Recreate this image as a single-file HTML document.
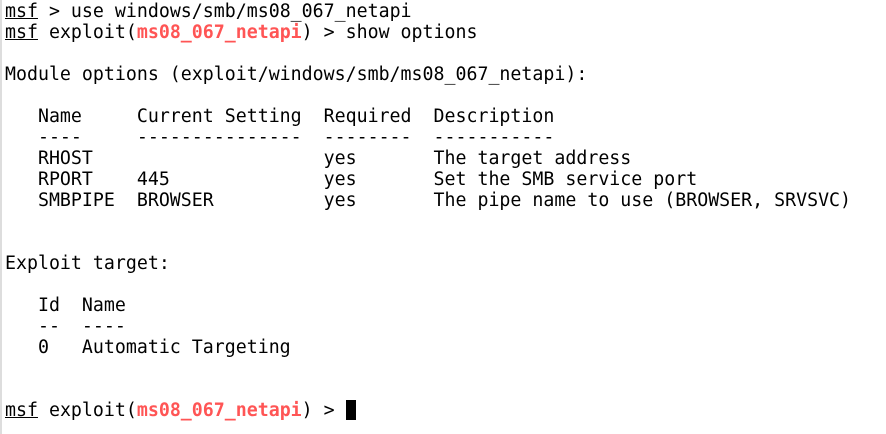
<!DOCTYPE html>
<html><head><meta charset="utf-8"><style>
html,body{margin:0;padding:0;background:#fff;width:886px;height:434px;overflow:hidden;position:relative}
.edge{position:absolute;left:0;top:0;width:2px;height:434px;background:#ddd}
pre{position:absolute;left:5px;top:1px;margin:0;font-family:"DejaVu Sans Mono","Liberation Mono",monospace;font-size:18.25px;line-height:21px;color:#000}
u{text-decoration:underline}
.r{color:#ff5555;font-weight:bold}
.cur{display:inline-block;width:10px;height:20px;background:#000;vertical-align:-4px}
</style></head><body>
<div class="edge"></div>
<pre><u>msf</u> &gt; use windows/smb/ms08_067_netapi
<u>msf</u> exploit(<span class="r">ms08_067_netapi</span>) &gt; show options

Module options (exploit/windows/smb/ms08_067_netapi):

   Name     Current Setting  Required  Description
   ----     ---------------  --------  -----------
   RHOST                     yes       The target address
   RPORT    445              yes       Set the SMB service port
   SMBPIPE  BROWSER          yes       The pipe name to use (BROWSER, SRVSVC)


Exploit target:

   Id  Name
   --  ----
   0   Automatic Targeting


<u>msf</u> exploit(<span class="r">ms08_067_netapi</span>) &gt; <span class="cur"></span></pre>
</body></html>
